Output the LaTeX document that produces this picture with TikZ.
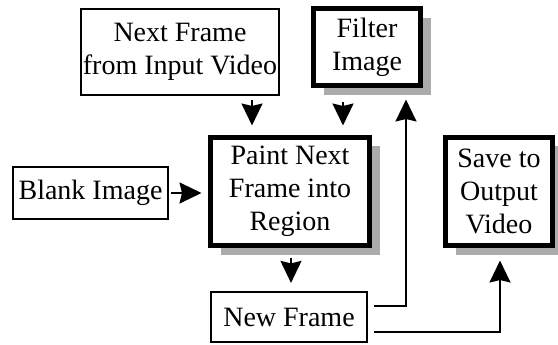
\documentclass[tikz,border=0pt]{standalone}
\usepackage{fontspec}
\setmainfont{Liberation Serif}
\usetikzlibrary{arrows.meta,shadows}
\begin{document}
\begin{tikzpicture}[x=1pt,y=-1pt,
  every node/.style={font=\fontsize{28}{33}\selectfont, align=center, inner sep=0pt},
  thinbox/.style={draw, line width=2.2pt, rectangle},
  thickbox/.style={draw, line width=5pt, rectangle, fill=white,
    drop shadow={shadow xshift=10pt, shadow yshift=-9pt, fill=black!33, opacity=1}},
  arr/.style={line width=2pt, -{Stealth[length=22pt,width=21pt,inset=2.5pt]}}]
\useasboundingbox (0,0) rectangle (558,345);
\node[thinbox, minimum width=198pt, minimum height=86pt] (next) at (180,52) {Next Frame\\from Input Video};
\node[thickbox, minimum width=107pt, minimum height=77pt] (filter) at (367,47.5) {Filter\\Image};
\node[thickbox, minimum width=159pt, minimum height=108pt] (paint) at (290,191.5) {Paint Next\\Frame into\\Region};
\node[thinbox, minimum width=155pt, minimum height=52pt] (blank) at (90.5,193) {Blank Image};
\node[thinbox, minimum width=156pt, minimum height=50pt] (new) at (289,317) {New Frame};
\node[thickbox, minimum width=107pt, minimum height=108pt] (save) at (499,191.5) {Save to\\Output\\Video};
\draw[arr] ([xshift=72pt,yshift=-4pt]next.south) -- ([xshift=-38pt,yshift=9.5pt]paint.north);
\draw[arr] ([xshift=-24pt,yshift=-14pt]filter.south) -- ([xshift=53pt,yshift=9.5pt]paint.north);
\draw[arr] ([xshift=1pt,yshift=-9.5pt]paint.south) -- ([xshift=2pt,yshift=8pt]new.north);
\draw[arr] ([xshift=2pt]blank.east) -- ([xshift=-6.5pt]paint.west |- blank.east);
\coordinate (c1) at (406,306);
\coordinate (c2) at (500,332);
\draw[arr] ([xshift=6pt]new.east |- c1) -| ([yshift=-11pt]filter.south -| c1);
\draw[arr] ([xshift=6pt]new.east |- c2) -| ([yshift=-12.5pt]save.south -| c2);
\end{tikzpicture}
\end{document}
